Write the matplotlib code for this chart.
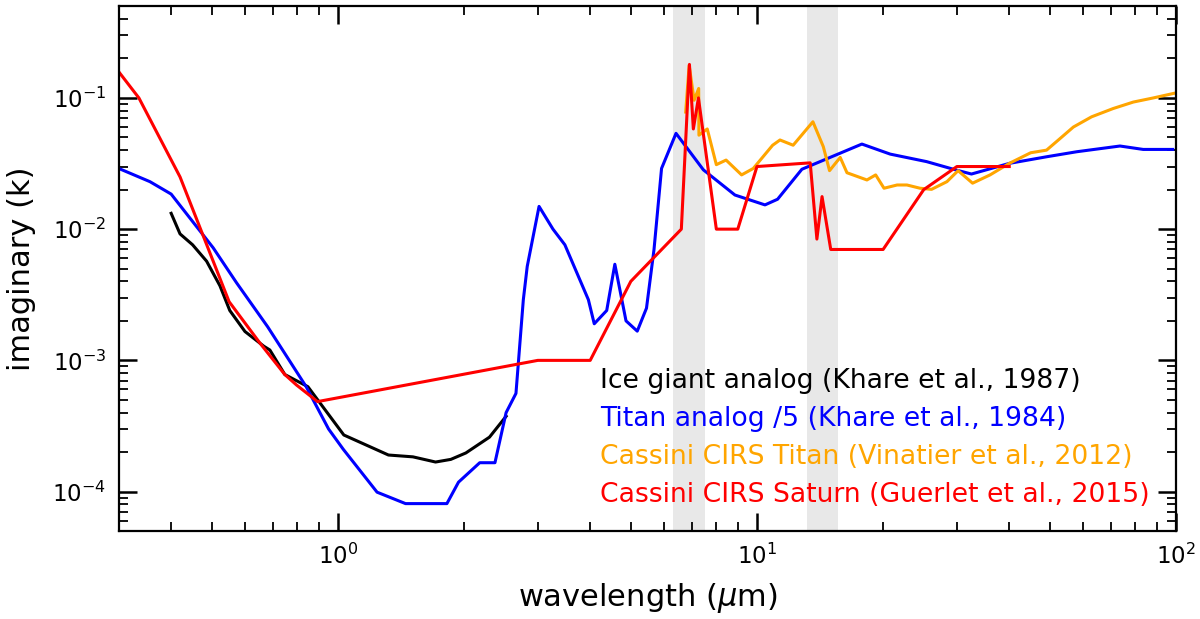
import matplotlib
matplotlib.use("Agg")
import matplotlib.pyplot as plt
import numpy as np

# Ice giant analog (Khare et al., 1987)
ice_wl = [0.40, 0.42, 0.45, 0.486, 0.523, 0.552, 0.60, 0.666, 0.688, 0.747, 0.848,
          1.033, 1.32, 1.51, 1.71, 1.86, 2.02, 2.30, 2.52]
ice_k = [0.0132, 0.0092, 0.0076, 0.0057, 0.0037, 0.0024, 0.00166, 0.00128, 0.0012,
         7.8e-4, 6.3e-4, 2.7e-4, 1.9e-4, 1.84e-4, 1.68e-4, 1.76e-4, 1.97e-4, 2.6e-4, 3.75e-4]

# Titan analog /5 (Khare et al., 1984)
titan_wl = [0.30, 0.356, 0.40, 0.504, 0.573, 0.68, 0.84, 0.95, 1.03, 1.24, 1.45, 1.82,
            1.94, 2.18, 2.37, 2.52, 2.66, 2.77, 2.83, 3.02, 3.26, 3.48, 3.96, 4.09,
            4.38, 4.58, 4.87, 5.18, 5.45, 5.68, 5.92, 6.41, 7.45, 8.86, 10.45, 11.2,
            12.8, 17.8, 20.8, 25.4, 29.9, 32.5, 40.0, 49.1, 58.0, 73.5, 83.5, 98.2]
titan_k = [0.029, 0.023, 0.0185, 0.0072, 0.0039, 0.0018, 6.3e-4, 3.0e-4, 2.1e-4, 9.9e-5,
           8.1e-5, 8.1e-5, 1.18e-4, 1.66e-4, 1.66e-4, 4.0e-4, 5.6e-4, 0.0029, 0.0052,
           0.0149, 0.010, 0.0076, 0.0029, 0.0019, 0.0024, 0.0054, 0.0020, 0.00167,
           0.0025, 0.0070, 0.029, 0.0537, 0.0283, 0.0182, 0.0153, 0.0169, 0.0286,
           0.0445, 0.0373, 0.0327, 0.0282, 0.0263, 0.0317, 0.0356, 0.0389, 0.043,
           0.0405, 0.0405]

# Cassini CIRS Titan (Vinatier et al., 2012)
cirs_titan_wl = [6.76, 6.89, 7.08, 7.26, 7.27, 7.61, 8.0, 8.44, 9.19, 9.8, 10.9, 11.35,
                 12.2, 13.6, 14.4, 14.9, 15.8, 16.4, 18.3, 19.2, 20.1, 21.6, 22.8, 24.5,
                 26.1, 28.4, 30.2, 32.7, 36.0, 40.0, 45.0, 49.1, 52.4, 56.9, 62.9, 70.8,
                 79.1, 88.3, 99.7]
cirs_titan_k = [0.078, 0.177, 0.096, 0.118, 0.052, 0.058, 0.031, 0.0336, 0.0259, 0.029,
                0.0436, 0.0478, 0.0436, 0.0658, 0.0425, 0.0279, 0.0352, 0.0269, 0.0237,
                0.0259, 0.0205, 0.0217, 0.0217, 0.0205, 0.0201, 0.023, 0.0279, 0.0224,
                0.0259, 0.0317, 0.0382, 0.040, 0.0478, 0.060, 0.0718, 0.083, 0.093,
                0.100, 0.109]

# Cassini CIRS Saturn (Guerlet et al., 2015)
cirs_sat_wl = [0.30, 0.335, 0.42, 0.55, 0.652, 0.747, 0.796, 0.894, 3.0, 4.0, 5.0, 6.6,
               6.9, 7.05, 7.25, 8.0, 9.0, 10.0, 13.4, 13.9, 14.3, 15.0, 20.0, 25.0,
               30.0, 40.0]
cirs_sat_k = [0.158, 0.100, 0.025, 0.0028, 0.00135, 7.8e-4, 6.5e-4, 4.85e-4, 1.0e-3,
              1.0e-3, 0.004, 0.010, 0.18, 0.058, 0.100, 0.010, 0.010, 0.030, 0.032,
              0.0084, 0.0177, 0.0070, 0.0070, 0.020, 0.030, 0.030]

bands = [(6.3, 7.5), (13.2, 15.6)]

fig, ax = plt.subplots(figsize=(12, 6.19), dpi=100)
fig.subplots_adjust(left=0.099, right=0.98, top=0.99, bottom=0.142)

for lo, hi in bands:
    ax.axvspan(lo, hi, color='lightgrey', alpha=0.5, lw=0, zorder=0)

lw = 2.2
ax.plot(ice_wl, ice_k, color='black', lw=lw,
        label='Ice giant analog (Khare et al., 1987)')
ax.plot(titan_wl, titan_k, color='blue', lw=lw,
        label='Titan analog /5 (Khare et al., 1984)')
ax.plot(cirs_titan_wl, cirs_titan_k, color='orange', lw=lw,
        label='Cassini CIRS Titan (Vinatier et al., 2012)')
ax.plot(cirs_sat_wl, cirs_sat_k, color='red', lw=lw,
        label='Cassini CIRS Saturn (Guerlet et al., 2015)')

ax.set_xscale('log')
ax.set_yscale('log')
ax.set_xlim(0.3, 100)
ax.set_ylim(5e-5, 0.5)

ax.set_xlabel(r'wavelength ($\mu$m)', fontsize=22, labelpad=9)
ax.set_ylabel('imaginary (k)', fontsize=22, labelpad=12)

ax.tick_params(which='both', direction='in', top=True, right=True, labelsize=16.5)
ax.tick_params(which='major', length=13, width=1.8, pad=9)
ax.tick_params(which='minor', length=6.5, width=1.3)
for sp in ax.spines.values():
    sp.set_linewidth(1.6)

leg = ax.legend(loc='lower right', bbox_to_anchor=(0.998, -0.002), frameon=False,
                handlelength=0, handletextpad=0, fontsize=19.2, labelspacing=0.45,
                labelcolor='linecolor')
for h in leg.legend_handles:
    h.set_visible(False)

fig.savefig('out.png', dpi=100)
